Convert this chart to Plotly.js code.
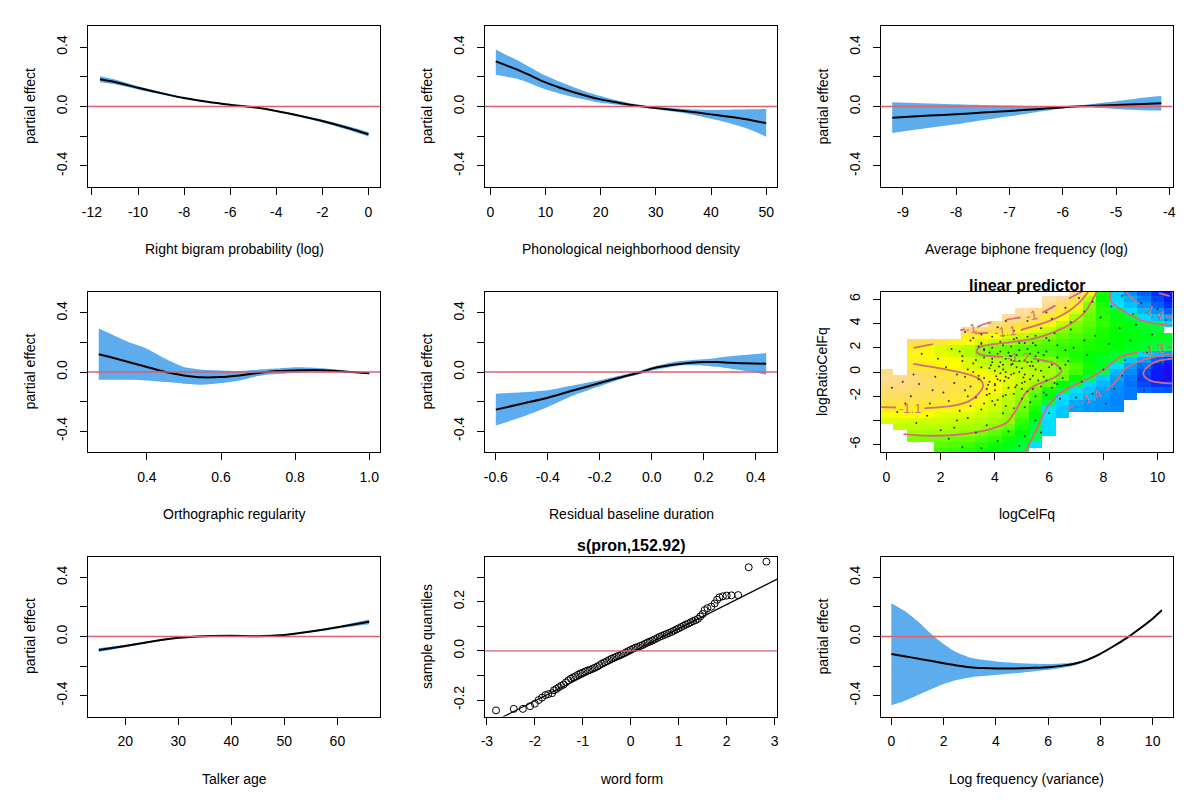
<!DOCTYPE html>
<html><head><meta charset="utf-8">
<script src="https://cdn.plot.ly/plotly-3.0.1.min.js"></script>
<style>html,body{margin:0;padding:0;background:#fff}#plot{width:1200px;height:806px}</style>
</head><body><div id="plot"></div>
<script>
// ---------------- DATA ----------------
const peTicks = [-0.4,-0.2,0,0.2,0.4];
const peTickText = ['-0.4','','0.0','','0.4'];

const bigramX   = [-11.65,-11,-10,-9,-8,-7,-6,-5,-4,-3,-2,-1,0];
const bigramFit = [0.183,0.165,0.126,0.09,0.057,0.032,0.012,-0.005,-0.03,-0.062,-0.098,-0.14,-0.187];
const bigramHi  = [0.203,0.181,0.137,0.098,0.063,0.036,0.015,-0.002,-0.026,-0.056,-0.089,-0.128,-0.171];
const bigramLo  = [0.163,0.149,0.115,0.082,0.051,0.028,0.009,-0.008,-0.034,-0.068,-0.107,-0.152,-0.203];
const bigramTicks = [-12,-10,-8,-6,-4,-2,0];
const bigramTickText = ['-12','-10','-8','-6','-4','-2','0'];

const densX   = [1,3,5,7.5,10,12.5,15,17.5,20,22.5,25,27.5,30,32.5,35,37.5,40,42.5,45,47.5,50];
const densFit = [0.304,0.275,0.247,0.205,0.162,0.128,0.098,0.071,0.048,0.03,0.014,0.001,-0.011,-0.02,-0.03,-0.041,-0.053,-0.065,-0.078,-0.094,-0.112];
const densHi  = [0.384,0.345,0.31,0.258,0.208,0.168,0.132,0.098,0.071,0.045,0.024,0.009,-0.004,-0.01,-0.016,-0.02,-0.024,-0.022,-0.02,-0.018,-0.016];
const densLo  = [0.213,0.2,0.185,0.152,0.116,0.088,0.064,0.044,0.025,0.014,0.004,-0.007,-0.018,-0.03,-0.044,-0.062,-0.082,-0.104,-0.13,-0.162,-0.203];
const densTicks = [0,10,20,30,40,50];
const densTickText = ['0','10','20','30','40','50'];

const biphX   = [-9.2,-8.5,-8,-7.5,-7,-6.5,-6,-5.85,-5.5,-5,-4.5,-4.15];
const biphFit = [-0.075,-0.061,-0.052,-0.041,-0.03,-0.018,-0.006,-0.002,0.004,0.01,0.017,0.022];
const biphHi  = [0.029,0.021,0.015,0.01,0.006,0.002,-0.001,-0.001,0.015,0.036,0.059,0.071];
const biphLo  = [-0.179,-0.143,-0.119,-0.092,-0.066,-0.038,-0.011,-0.003,-0.007,-0.016,-0.025,-0.027];
const biphTicks = [-9,-8,-7,-6,-5,-4];
const biphTickText = ['-9','-8','-7','-6','-5','-4'];

const orthX   = [0.27,0.3,0.35,0.4,0.45,0.5,0.55,0.6,0.65,0.7,0.75,0.8,0.85,0.9,0.95,1.0];
const orthFit = [0.12,0.102,0.068,0.034,0.0,-0.023,-0.036,-0.034,-0.023,-0.007,0.007,0.011,0.014,0.009,0.0,-0.009];
const orthHi  = [0.294,0.26,0.203,0.158,0.09,0.034,0.016,0.011,0.007,0.016,0.023,0.032,0.029,0.02,0.004,-0.002];
const orthLo  = [-0.052,-0.052,-0.052,-0.057,-0.068,-0.079,-0.086,-0.075,-0.057,-0.027,-0.014,-0.007,-0.002,-0.002,-0.004,-0.016];
const orthTicks = [0.4,0.6,0.8,1.0];
const orthTickText = ['0.4','0.6','0.8','1.0'];

const resX   = [-0.6,-0.5,-0.4,-0.3,-0.2,-0.1,-0.05,0,0.05,0.1,0.15,0.2,0.25,0.3,0.35,0.44];
const resFit = [-0.255,-0.215,-0.174,-0.124,-0.075,-0.027,-0.005,0.023,0.04,0.052,0.062,0.068,0.067,0.063,0.06,0.056];
const resHi  = [-0.147,-0.138,-0.124,-0.09,-0.056,-0.016,0.006,0.034,0.055,0.072,0.08,0.086,0.095,0.106,0.115,0.129];
const resLo  = [-0.362,-0.305,-0.237,-0.158,-0.097,-0.038,-0.015,0.011,0.027,0.043,0.045,0.043,0.035,0.023,0.01,-0.018];
const resTicks = [-0.6,-0.4,-0.2,0,0.2,0.4];
const resTickText = ['-0.6','-0.4','-0.2','0.0','0.2','0.4'];

const ageX   = [15,20,25,30,35,40,45,50,55,60,66];
const ageFit = [-0.091,-0.064,-0.034,-0.009,0.002,0.005,0.002,0.011,0.034,0.062,0.1];
const ageHi  = [-0.079,-0.056,-0.029,-0.005,0.006,0.009,0.006,0.015,0.039,0.069,0.117];
const ageLo  = [-0.103,-0.072,-0.039,-0.013,-0.002,0.001,-0.002,0.007,0.029,0.055,0.083];
const ageTicks = [20,30,40,50,60];
const ageTickText = ['20','30','40','50','60'];

const lfX   = [0,0.5,1,1.5,2,2.5,3,3.5,4,4.5,5,5.5,6,6.5,7,7.5,8,8.5,9,9.5,10,10.35];
const lfFit = [-0.119,-0.134,-0.149,-0.165,-0.181,-0.196,-0.208,-0.214,-0.217,-0.217,-0.215,-0.212,-0.208,-0.199,-0.185,-0.158,-0.117,-0.066,-0.011,0.053,0.121,0.178];
const lfHi  = [0.226,0.174,0.105,0.021,-0.05,-0.107,-0.142,-0.158,-0.169,-0.176,-0.181,-0.185,-0.187,-0.183,-0.176,-0.152,-0.112,-0.062,-0.007,0.057,0.126,0.184];
const lfLo  = [-0.466,-0.437,-0.398,-0.359,-0.322,-0.295,-0.277,-0.268,-0.261,-0.253,-0.245,-0.236,-0.226,-0.213,-0.197,-0.166,-0.122,-0.07,-0.015,0.049,0.116,0.172];
const lfTicks = [0,2,4,6,8,10];
const lfTickText = ['0','2','4','6','8','10'];

// QQ plot (word form)
const qqX = [-2.81,-2.44,-2.25,-2.10,-2.0,-1.92,-1.85,-1.78,-1.72,-1.64,-1.60,-1.55,
 -1.5,-1.45,-1.4,-1.35,-1.3,-1.25,-1.2,-1.15,-1.1,-1.05,-1.0,-0.95,-0.9,-0.85,-0.8,-0.75,-0.7,-0.65,-0.6,-0.55,
 -0.5,-0.45,-0.4,-0.35,-0.3,-0.25,-0.2,-0.15,-0.1,-0.05,0,0.05,0.1,0.15,0.2,0.25,0.3,0.35,0.4,0.45,
 0.5,0.55,0.6,0.65,0.7,0.75,0.8,0.85,0.9,0.95,1.0,1.05,1.1,1.15,1.2,1.25,1.3,1.35,1.4,1.45,
 1.5,1.54,1.6,1.68,1.75,1.8,1.85,1.92,2.0,2.1,2.24,2.46,2.83];
const qqY = [-0.242,-0.236,-0.236,-0.225,-0.215,-0.20,-0.19,-0.18,-0.176,-0.172,-0.16,-0.155,
 -0.148,-0.142,-0.137,-0.128,-0.12,-0.113,-0.108,-0.103,-0.097,-0.092,-0.088,-0.084,-0.08,-0.077,-0.073,-0.069,-0.064,-0.058,-0.052,-0.047,
 -0.042,-0.037,-0.032,-0.028,-0.024,-0.02,-0.016,-0.011,-0.006,-0.001,0.004,0.009,0.013,0.016,0.02,0.024,0.029,0.034,0.038,0.042,
 0.047,0.052,0.057,0.061,0.065,0.069,0.073,0.077,0.082,0.087,0.092,0.097,0.102,0.107,0.111,0.116,0.121,0.125,0.13,0.14,
 0.15,0.166,0.174,0.18,0.193,0.208,0.218,0.222,0.225,0.226,0.227,0.34,0.363];
const qqLineX = [-3.2, 3.2];
const qqLineY = [-0.321, 0.306];
const qqXTicks = [-3,-2,-1,0,1,2,3];
const qqXTickText = ['-3','-2','-1','0','1','2','3'];
const qqYTicks = [-0.2,-0.1,0,0.1,0.2,0.3];
const qqYTickText = ['-0.2','','0.0','','0.2',''];

// Contour panel: linear predictor over logCelFq x logRatioCelFq
const n = null;
const gridX = [0,0.5,1,1.5,2,2.5,3,3.5,4,4.5,5,5.5,6,6.5,7,7.5,8,8.5,9,9.5,10,10.5];
const gridY = [-6.5,-6,-5.5,-5,-4.5,-4,-3.5,-3,-2.5,-2,-1.5,-1,-0.5,0,0.5,1,1.5,2,2.5,3,3.5,4,4.5,5,5.5,6,6.5];
const gridZ = [
 [n,n,n,n,-1.235,-1.24,-1.245,-1.255,-1.265,-1.28,-1.30,n,n,n,n,n,n,n,n,n,n,n],
 [n,n,n,n,-1.225,-1.23,-1.235,-1.245,-1.255,-1.27,-1.29,-1.31,n,n,n,n,n,n,n,n,n,n],
 [n,n,-1.205,-1.21,-1.21,-1.215,-1.22,-1.23,-1.24,-1.255,-1.275,-1.305,n,n,n,n,n,n,n,n,n,n],
 [n,n,-1.19,-1.19,-1.19,-1.195,-1.2,-1.21,-1.225,-1.24,-1.26,-1.3,-1.32,n,n,n,n,n,n,n,n,n],
 [n,-1.17,-1.17,-1.175,-1.175,-1.18,-1.185,-1.19,-1.2,-1.22,-1.25,-1.29,-1.32,n,n,n,n,n,n,n,n,n],
 [-1.15,-1.15,-1.155,-1.16,-1.16,-1.165,-1.17,-1.18,-1.19,-1.2,-1.24,-1.28,-1.32,n,n,n,n,n,n,n,n,n],
 [-1.13,-1.13,-1.13,-1.135,-1.14,-1.145,-1.15,-1.16,-1.175,-1.195,-1.225,-1.265,-1.31,-1.35,n,n,n,n,n,n,n,n],
 [-1.1,-1.1,-1.1,-1.1,-1.11,-1.115,-1.125,-1.14,-1.16,-1.185,-1.215,-1.25,-1.31,-1.35,-1.40,-1.405,-1.41,-1.415,n,n,n,n],
 [-1.07,-1.07,-1.075,-1.08,-1.085,-1.09,-1.105,-1.125,-1.15,-1.175,-1.205,-1.24,-1.295,-1.33,-1.39,-1.405,-1.41,-1.42,n,n,n,n],
 [-1.04,-1.045,-1.05,-1.055,-1.065,-1.08,-1.095,-1.115,-1.14,-1.17,-1.195,-1.23,-1.265,-1.31,-1.34,-1.37,-1.405,-1.42,-1.43,n,n,n],
 [-1.02,-1.025,-1.035,-1.045,-1.055,-1.07,-1.085,-1.1,-1.13,-1.155,-1.185,-1.215,-1.25,-1.29,-1.32,-1.35,-1.40,-1.415,-1.43,-1.445,-1.455,-1.46],
 [-1.0,-1.005,-1.015,-1.03,-1.05,-1.065,-1.08,-1.1,-1.125,-1.145,-1.165,-1.195,-1.22,-1.26,-1.3,-1.33,-1.37,-1.41,-1.44,-1.47,-1.49,-1.49],
 [-0.99,-1.0,-1.02,-1.04,-1.06,-1.075,-1.09,-1.11,-1.13,-1.145,-1.16,-1.175,-1.195,-1.22,-1.26,-1.3,-1.34,-1.395,-1.43,-1.48,-1.52,-1.54],
 [-1.0,n,-1.04,-1.06,-1.08,-1.095,-1.115,-1.13,-1.145,-1.155,-1.165,-1.175,-1.19,-1.21,-1.235,-1.27,-1.305,-1.37,-1.415,-1.47,-1.52,-1.55],
 [n,n,-1.09,-1.105,-1.12,-1.135,-1.15,-1.16,-1.17,-1.175,-1.18,-1.185,-1.19,-1.21,-1.23,-1.255,-1.285,-1.32,-1.40,-1.44,-1.50,-1.54],
 [n,n,-1.105,-1.115,-1.125,-1.135,-1.15,-1.165,-1.18,-1.19,-1.195,-1.2,-1.21,-1.225,-1.245,-1.265,-1.28,-1.305,-1.35,-1.405,-1.45,-1.50],
 [n,n,-1.12,-1.13,-1.14,-1.155,-1.18,-1.205,-1.21,-1.215,-1.22,-1.225,-1.23,-1.24,-1.25,-1.26,-1.27,-1.285,-1.30,-1.33,-1.37,-1.40],
 [n,n,-1.10,-1.13,-1.15,-1.165,-1.18,-1.2,-1.21,-1.22,-1.225,-1.23,-1.235,-1.24,-1.245,-1.25,-1.255,-1.265,-1.275,-1.285,-1.295,-1.305],
 [n,n,-1.05,-1.06,-1.08,-1.11,-1.13,-1.15,-1.17,-1.19,-1.205,-1.215,-1.225,-1.235,-1.24,-1.25,-1.255,-1.26,-1.27,-1.28,-1.285,-1.29],
 [n,n,n,n,n,n,-1.10,-1.115,-1.135,-1.15,-1.17,-1.19,-1.205,-1.22,-1.23,-1.24,-1.25,-1.26,-1.265,-1.27,-1.275,-1.28],
 [n,n,n,n,n,n,-1.01,-1.03,-1.055,-1.08,-1.105,-1.14,-1.175,-1.205,-1.22,-1.235,-1.25,-1.26,-1.27,-1.28,-1.29,n],
 [n,n,n,n,n,n,n,n,-1.015,-1.04,-1.065,-1.09,-1.125,-1.175,-1.21,-1.225,-1.24,-1.255,-1.27,-1.285,-1.30,-1.33],
 [n,n,n,n,n,n,n,n,n,-0.98,-1.0,-1.04,-1.08,-1.13,-1.19,-1.22,-1.245,-1.27,-1.29,-1.325,-1.36,-1.40],
 [n,n,n,n,n,n,n,n,n,n,-0.975,-0.99,-1.025,-1.08,-1.145,-1.21,-1.245,-1.28,-1.32,-1.37,-1.41,-1.45],
 [n,n,n,n,n,n,n,n,n,n,n,n,-0.99,-1.035,-1.10,-1.205,-1.25,-1.31,-1.355,-1.41,-1.45,-1.49],
 [n,n,n,n,n,n,n,n,n,n,n,n,-0.97,-0.99,-1.06,-1.175,-1.26,-1.33,-1.385,-1.43,-1.47,-1.51],
 [n,n,n,n,n,n,n,n,n,n,n,n,n,n,-0.99,-1.13,-1.25,-1.34,-1.41,-1.45,-1.49,-1.52]
];
// contour lines (null = gap for label)
const c10X = [2.72,2.9,n,3.35,3.64,4.4,4.95,n,5.75,6.0,6.46,6.8,7.2];
const c10Y = [3.46,3.52,n,3.7,3.98,4.3,4.5,n,4.9,5.2,5.78,6.15,6.6];
const c11aX = [1.0,1.72,n,3.25,3.75,n,4.95,5.11,6.0,6.71,7.1,7.44];
const c11aY = [2.0,2.3,n,3.18,3.22,n,3.45,3.57,4.2,5.0,5.7,6.6];
const c11bX = [-0.22,0.35,n,1.4,2.47,3.08,3.39,3.57,3.45,2.96,2.22,0.99];
const c11bY = [-2.9,-2.93,n,-3.0,-2.78,-2.36,-1.81,-1.12,-0.62,-0.16,0.2,0.67];
const c12X = [7.75,7.32,6.71,5.85,5.3,4.62,3.64,3.38,3.33,3.5,3.9,4.3,n,5.4,5.7,6.22,6.46,6.25,5.48,5.15,4.8,4.44,3.82,2.84,1.61,0.63];
const c12Y = [6.6,4.95,3.85,3.02,2.7,2.47,2.19,1.95,1.64,1.42,1.3,1.24,n,1.1,1.0,0.67,0.12,-0.4,-1.12,-1.67,-3.05,-4.16,-4.71,-5.12,-5.26,-5.13];
const c13aX = [5.1,5.23,5.6,5.97,6.46,7.0,7.5,8.06,8.4,8.67,9.29,n,10.35,10.55];
const c13aY = [-6.6,-6.09,-4.43,-2.77,-1.67,-1.0,-0.5,0.26,0.9,1.3,1.64,n,2.03,2.05];
const c13bX = [8.24,8.3,8.8,9.41,10.0,10.55];
const c13bY = [6.6,5.78,4.95,4.26,3.95,3.85];
const c14aX = [6.7,6.9,n,8.1,8.43,8.8,9.41,10.0,10.55];
const c14aY = [-3.05,-2.75,n,-1.5,-0.85,0.26,0.95,1.3,1.5];
const c14bX = [8.85,9.0,9.3,n,10.3,10.55];
const c14bY = [6.6,6.2,5.6,n,4.6,4.5];
const c15aX = [10.55,10.1,9.8,9.55,9.47,9.6,9.85,10.2,10.55];
const c15aY = [1.1,0.95,0.7,0.25,-0.16,-0.55,-0.8,-0.9,-0.95];
const c15bX = [10.05,10.45];
const c15bY = [6.5,6.25];
const contourLabelText = ['-1','-1','-1.1','-1.1','-1.2','-1.3','-1.4','-1.4'];
const contourLabelX = [3.12,5.36,4.37,0.88,4.86,9.84,7.5,9.84];
const contourLabelY = [3.6,4.68,3.32,-2.98,1.2,1.88,-2.1,5.0];
const contourLabelAngle = [-10,-12,-5,0,0,-10,-25,24];
// observations
const dotX = [3.6,3.9,4.1,4.3,4.5,4.7,4.9,5.1,5.3,5.5,3.8,4.0,4.2,4.4,4.6,4.8,5.0,5.2,5.4,5.6,3.5,3.7,3.9,4.1,4.3,4.5,4.7,4.9,5.1,5.3,5.7,5.9,6.1,6.0,3.4,3.3,4.0,4.6,5.8,4.4,3.6,5.5,4.8,4.2,6.3,6.5,6.2,5.2,3.1,3.0,
 0.2,0.6,0.9,1.2,1.5,1.8,2.1,2.3,2.5,2.7,2.9,2.2,1.6,1.1,0.4,2.6,2.0,1.3,1.9,2.4,2.8,1.0,0.7,2.9,1.7,
 2.9,3.5,4.1,4.7,5.2,5.7,6.1,6.6,7.1,6.8,7.3,5.9,4.4,3.2,7.6,
 6.6,6.9,7.2,7.4,7.7,8.0,8.2,8.4,8.6,8.8,7.0,7.6,8.1,6.8,7.9,8.3,9.0,9.3,9.6,9.1,9.8,10.1,10.3,8.7,9.5,7.3,6.4,6.0,5.5,5.1,
 2.3,2.8,3.3,3.7,4.1,4.5,4.9,3.0,4.3,5.7,3.5,2.5,
 9.4,10.0,8.7,9.9,10.3,9.2,
 4.15,4.35,4.55,4.75,3.85,5.05,4.05,4.65,3.75,5.35,
 3.2,3.4,3.6,3.8,4.0,4.2,4.4,4.6,4.8,5.0,5.2,5.4,5.6,5.8,6.0,
 3.3,3.5,3.7,3.9,4.1,4.3,4.5,4.7,4.9,5.1,5.3,5.5,5.7,5.9,6.1,
 2.6,2.8,3.0,3.2,3.4,3.6,3.8,4.0,4.2,4.4,4.6,4.8,5.0,5.2,5.4,5.6,5.8,6.2,6.4,6.6,
 3.1,3.5,3.9,4.3,4.7,5.1,5.5,5.9,6.3,6.7,
 2.7,3.1,3.5,3.9,4.3,4.7,5.1,5.5,5.9,6.3,
 4.2,4.6,5.0,5.4,3.8,4.4,4.9,5.3,3.6,4.0];
const dotY = [1.2,0.8,1.5,0.2,-0.5,0.9,1.8,-0.2,0.5,1.3,-0.8,-1.5,-0.1,1.1,2.1,-1.1,0.3,-1.6,2.4,-0.7,0.4,-1.9,2.0,-2.3,0.6,1.6,-1.8,0.0,1.0,-2.5,0.1,1.7,-1.3,2.6,-0.3,1.0,0.1,-0.2,-0.4,-2.8,-2.6,3.0,2.8,2.5,1.2,-0.5,3.2,1.9,-1.2,0.2,
 -1.3,-0.8,-2.0,-1.0,-3.6,-0.4,-1.7,-2.4,-0.9,-3.2,-1.5,0.4,-2.6,-4.2,-3.3,-4.0,-4.8,1.5,1.1,1.9,0.9,-0.2,-2.6,-0.4,-1.5,
 3.3,3.1,3.7,3.4,4.2,3.6,4.4,5.3,6.1,4.1,5.0,4.9,4.2,2.8,5.8,
 0.6,2.0,-0.8,1.4,3.0,0.2,2.3,-1.4,3.6,1.0,-2.1,-1.8,-2.6,3.5,4.5,5.4,2.6,-0.6,1.6,4.8,3.1,0.8,-0.4,-0.3,-1.5,2.6,-2.2,-3.4,-4.0,-5.3,
 -5.5,-6.2,-5.0,-4.4,-5.7,-4.9,-6.1,-3.8,-3.4,-5.0,-6.3,-4.6,
 5.7,5.2,6.3,6.0,4.3,3.9,
 0.45,-0.75,1.35,-1.25,0.55,-0.45,-0.35,0.65,-1.05,0.85,
 0.7,-0.6,1.9,0.3,-1.1,1.7,-0.4,0.6,1.4,-0.9,0.8,-0.3,1.6,-1.7,0.4,
 -2.1,2.3,-1.4,1.1,-0.6,2.2,-1.3,-0.1,2.4,-0.8,1.5,0.2,-1.2,2.8,0.6,
 -0.2,1.3,-2.0,0.0,2.1,-0.5,1.6,-2.7,0.8,-1.9,1.0,0.4,-2.2,2.9,-1.4,0.9,1.4,-0.9,0.3,1.8,
 -2.8,-3.1,-2.4,-2.0,-3.0,-2.9,-2.0,-1.9,-1.0,0.9,
 1.7,2.6,2.4,2.9,3.0,2.7,2.4,2.2,-0.7,2.2,
 -0.7,1.3,-1.4,0.5,-1.8,0.0,0.9,-0.6,1.8,-1.0];
const lpXTicks = [0,2,4,6,8,10];
const lpXTickText = ['0','2','4','6','8','10'];
const lpYTicks = [-6,-4,-2,0,2,4,6];
const lpYTickText = ['-6','','-2','0','2','4','6'];

// ---------------- STYLE / LAYOUT ----------------
const W = 1200, H = 806;
const FONT = 'Liberation Sans, Arial, Helvetica, sans-serif';
const BAND = '#5CACEE';
const ZERO = '#D9606E';
const CONT = '#D96A76';
const colPx = [[88,380],[485,777],[880.5,1172.5]];
const rowPx = [[26,187],[292,452],[556.5,716.5]];
const xdom = c => [colPx[c][0]/W, colPx[c][1]/W];
const ydom = r => [1-rowPx[r][1]/H, 1-rowPx[r][0]/H];

const traces = [];
const layout = {
  width: W, height: H, margin:{l:0,r:0,t:0,b:0},
  paper_bgcolor:'#fff', plot_bgcolor:'#fff', showlegend:false, hovermode:false,
  font:{family:FONT, size:14, color:'#000'},
  annotations:[], shapes:[]
};

function axis(dom, range, tv, tt, isY, anchor){
  return {domain:dom, range:range, anchor:anchor, tickmode:'array', tickvals:tv, ticktext:tt,
    showgrid:false, zeroline:false, showline:true, mirror:true, linecolor:'#000', linewidth:1,
    ticks:'outside', ticklen:7, tickwidth:1, tickcolor:'#000', tickangle: isY ? -90 : 0,
    ticklabelstandoff: isY ? 7 : 5,
    tickfont:{family:FONT, size:14, color:'#000'}, fixedrange:true};
}
function addAxes(i, xr, xtv, xtt, yr, ytv, ytt){
  const c = (i-1)%3, r = Math.floor((i-1)/3);
  const s = i===1 ? '' : String(i);
  layout['xaxis'+s] = axis(xdom(c), xr, xtv, xtt, false, 'y'+s);
  layout['yaxis'+s] = axis(ydom(r), yr, ytv, ytt, true, 'x'+s);
}
function addTitles(i, xt, yt){
  const c = (i-1)%3, r = Math.floor((i-1)/3);
  const xc = (colPx[c][0]+colPx[c][1])/2/W;
  const yc = 1-(rowPx[r][0]+rowPx[r][1])/2/H;
  layout.annotations.push({text:xt, xref:'paper', yref:'paper', x:xc, y:1-(rowPx[r][1]+62)/H,
    showarrow:false, xanchor:'center', yanchor:'middle', font:{family:FONT,size:14,color:'#000'}});
  layout.annotations.push({text:yt, xref:'paper', yref:'paper', x:(colPx[c][0]-58.5)/W, y:yc,
    showarrow:false, xanchor:'center', yanchor:'middle', textangle:-90, font:{family:FONT,size:14,color:'#000'}});
}
function zeroLine(i){
  const s = i===1 ? '' : String(i);
  layout.shapes.push({type:'line', xref:'x'+s+' domain', yref:'y'+s, x0:0, x1:1, y0:0, y1:0,
    line:{color:ZERO, width:1.4}, layer:'above'});
}
function effectPanel(i, x, fit, lo, hi, xr, xtv, xtt, xtitle){
  const s = i===1 ? '' : String(i);
  traces.push({type:'scatter', mode:'lines', x:x, y:lo, xaxis:'x'+s, yaxis:'y'+s,
    line:{width:0, color:BAND, shape:'spline', smoothing:0.6}, hoverinfo:'skip'});
  traces.push({type:'scatter', mode:'lines', x:x, y:hi, xaxis:'x'+s, yaxis:'y'+s, fill:'tonexty',
    fillcolor:BAND, line:{width:0, color:BAND, shape:'spline', smoothing:0.6}, hoverinfo:'skip'});
  traces.push({type:'scatter', mode:'lines', x:x, y:fit, xaxis:'x'+s, yaxis:'y'+s,
    line:{width:2, color:'#000', shape:'spline', smoothing:0.6}, hoverinfo:'skip'});
  addAxes(i, xr, xtv, xtt, [-0.542,0.542], peTicks, peTickText);
  addTitles(i, xtitle, 'partial effect');
  zeroLine(i);
}

effectPanel(1, bigramX, bigramFit, bigramLo, bigramHi, [-12.17,0.5], bigramTicks, bigramTickText, 'Right bigram probability (log)');
effectPanel(2, densX, densFit, densLo, densHi, [-0.96,51.96], densTicks, densTickText, 'Phonological neighborhood density');
effectPanel(3, biphX, biphFit, biphLo, biphHi, [-9.42,-3.94], biphTicks, biphTickText, 'Average biphone frequency (log)');
effectPanel(4, orthX, orthFit, orthLo, orthHi, [0.241,1.029], orthTicks, orthTickText, 'Orthographic regularity');
effectPanel(5, resX, resFit, resLo, resHi, [-0.6416,0.4816], resTicks, resTickText, 'Residual baseline duration');
effectPanel(7, ageX, ageFit, ageLo, ageHi, [12.96,68.04], ageTicks, ageTickText, 'Talker age');
effectPanel(9, lfX, lfFit, lfLo, lfHi, [-0.414,10.76], lfTicks, lfTickText, 'Log frequency (variance)');

// ---- panel 6: contour / image ----
const zmin = -1.56, zmax = -0.96;
const csStops = [[-1.56,'#2200FF'],[-1.50,'#0022FF'],[-1.45,'#0060FF'],[-1.40,'#00A0FF'],[-1.35,'#00C8FF'],
  [-1.31,'#00E5FF'],[-1.305,'#00FF4D'],[-1.26,'#00FF00'],[-1.22,'#66FF00'],[-1.18,'#B3FF00'],[-1.14,'#E6FF00'],
  [-1.135,'#FFFF00'],[-1.10,'#FFED26'],[-1.05,'#FFDE59'],[-1.00,'#FFDB86'],[-0.96,'#FFE0B3']];
const colorscale = csStops.map(s => [(s[0]-zmin)/(zmax-zmin), s[1]]);
traces.push({type:'heatmap', x:gridX, y:gridY, z:gridZ, xaxis:'x6', yaxis:'y6', zmin:zmin, zmax:zmax,
  colorscale:colorscale, showscale:false, zsmooth:false, hoverinfo:'skip'});
const cl = [[c10X,c10Y,'longdash'],[c11aX,c11aY,'solid'],[c11bX,c11bY,'solid'],[c12X,c12Y,'solid'],
  [c13aX,c13aY,'solid'],[c13bX,c13bY,'solid'],[c14aX,c14aY,'solid'],[c14bX,c14bY,'solid'],
  [c15aX,c15aY,'solid'],[c15bX,c15bY,'solid']];
cl.forEach(c => traces.push({type:'scatter', mode:'lines', x:c[0], y:c[1], xaxis:'x6', yaxis:'y6',
  line:{color:CONT, width:1.8, shape:'spline', smoothing:0.8, dash:c[2]}, connectgaps:false, hoverinfo:'skip'}));
traces.push({type:'scatter', mode:'markers', x:dotX, y:dotY, xaxis:'x6', yaxis:'y6',
  marker:{size:2, color:'#333'}, hoverinfo:'skip'});
contourLabelText.forEach((t,k) => layout.annotations.push({text:t, xref:'x6', yref:'y6',
  x:contourLabelX[k], y:contourLabelY[k], showarrow:false, textangle:contourLabelAngle[k],
  xanchor:'center', yanchor:'middle', font:{family:FONT, size:13, color:CONT}}));
addAxes(6, [-0.22,10.55], lpXTicks, lpXTickText, [-6.6,6.6], lpYTicks, lpYTickText);
addTitles(6, 'logCelFq', 'logRatioCelFq');
layout.annotations.push({text:'<b>linear predictor</b>', xref:'paper', yref:'paper',
  x:(colPx[2][0]+colPx[2][1])/2/W, y:1-285/H, showarrow:false, xanchor:'center', yanchor:'middle',
  font:{family:FONT, size:16, color:'#000'}});

// ---- panel 8: QQ plot ----
traces.push({type:'scatter', mode:'lines', x:qqLineX, y:qqLineY, xaxis:'x8', yaxis:'y8',
  line:{color:'#000', width:1.3}, hoverinfo:'skip'});
traces.push({type:'scatter', mode:'markers', x:qqX, y:qqY, xaxis:'x8', yaxis:'y8',
  marker:{symbol:'circle-open', size:7, color:'#000', line:{width:1, color:'#000'}}, hoverinfo:'skip'});
addAxes(8, [-3.04,3.05], qqXTicks, qqXTickText, [-0.267,0.384], qqYTicks, qqYTickText);
addTitles(8, 'word form', 'sample quantiles');
zeroLine(8);
layout.annotations.push({text:'<b>s(pron,152.92)</b>', xref:'paper', yref:'paper',
  x:(colPx[1][0]+colPx[1][1])/2/W, y:1-545/H, showarrow:false, xanchor:'center', yanchor:'middle',
  font:{family:FONT, size:16, color:'#000'}});

Plotly.newPlot('plot', traces, layout, {staticPlot:true, displayModeBar:false});
</script></body></html>
